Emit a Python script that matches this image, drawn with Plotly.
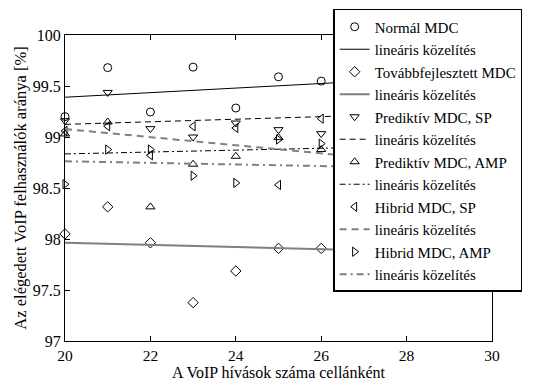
import plotly.graph_objects as go

x_calls = [20, 21, 22, 23, 24, 25, 26]

normal_mdc = [99.20, 99.68, 99.245, 99.685, 99.284, 99.59, 99.548]
tovabb_mdc = [98.05, 98.315, 97.963, 97.376, 97.686, 97.908, 97.908]
pred_sp = [99.16, 99.437, 99.082, 99.00, 99.137, 99.072, 99.033]
pred_amp = [99.03, 99.147, 98.315, 98.733, 98.811, 98.994, 98.877]
hibrid_sp = [99.06, 99.105, 98.821, 99.105, 99.088, 98.53, 99.18]
hibrid_amp = [98.537, 98.877, 98.877, 98.62, 98.55, 98.975, 98.935]

fit_x = [20, 30]
fit_normal = [99.39, 99.614]
fit_tovabb = [97.963, 97.859]
fit_pred_sp = [99.124, 99.250]
fit_pred_amp = [98.834, 98.927]
fit_hibrid_sp = [99.078, 98.681]
fit_hibrid_amp = [98.762, 98.684]

names = ["Normál MDC", "Továbbfejlesztett MDC", "Prediktív MDC, SP",
         "Prediktív MDC, AMP", "Hibrid MDC, SP", "Hibrid MDC, AMP"]
fit_name = "lineáris közelítés"

GRAY = "rgb(128,128,128)"
series = [
    (names[0], normal_mdc, "circle-open", fit_normal, "black", 1, "solid"),
    (names[1], tovabb_mdc, "diamond-open", fit_tovabb, GRAY, 2, "solid"),
    (names[2], pred_sp, "triangle-down-open", fit_pred_sp, "black", 1, "6px,4px"),
    (names[3], pred_amp, "triangle-up-open", fit_pred_amp, "black", 1, "6px,3px,2px,3px"),
    (names[4], hibrid_sp, "triangle-left-open", fit_hibrid_sp, GRAY, 2, "7px,5px"),
    (names[5], hibrid_amp, "triangle-right-open", fit_hibrid_amp, GRAY, 2, "7px,4px,2px,4px"),
]

fig = go.Figure()
for name, ys, sym, fit, col, w, dash in series:
    fig.add_trace(go.Scatter(
        x=x_calls, y=ys, mode="markers", name=name, cliponaxis=False,
        marker=dict(symbol=sym, size=8, color="black", line=dict(color="black", width=1)),
    ))
    fig.add_trace(go.Scatter(
        x=fit_x, y=fit, mode="lines", name=fit_name,
        line=dict(color=col, width=w, dash=dash),
    ))

FONT = "Times New Roman, Liberation Serif, DejaVu Serif, serif"
axis_common = dict(
    showline=True, linecolor="black", linewidth=1, mirror="ticks",
    ticks="inside", ticklen=5, tickcolor="black", showgrid=False, zeroline=False,
)
fig.update_xaxes(range=[20, 30], tickvals=[20, 22, 24, 26, 28, 30],
                 tickfont=dict(family=FONT, size=15.5, color="black"),
                 title=dict(text="A VoIP hívások száma cellánként", standoff=4,
                            font=dict(family=FONT, size=16, color="black")),
                 **axis_common)
fig.update_yaxes(range=[97, 100], tickvals=[97, 97.5, 98, 98.5, 99, 99.5, 100],
                 ticktext=["97", "97.5", "98", "98.5", "99", "99.5", "100"],
                 tickfont=dict(family=FONT, size=16, color="black"),
                 title=dict(text="Az elégedett VoIP felhasználók aránya [%]", standoff=2,
                            font=dict(family=FONT, size=16.5, color="black")),
                 **axis_common)

fig.update_layout(
    width=536, height=381,
    margin=dict(l=64.5, r=44, t=34.5, b=40, autoexpand=False),
    paper_bgcolor="white", plot_bgcolor="white",
    font=dict(family=FONT, size=15, color="black"),
    showlegend=True,
    legend=dict(x=0.628, y=1.085, xanchor="left", yanchor="top",
                maxheight=340,
                bgcolor="white", bordercolor="black", borderwidth=1.5,
                traceorder="normal", tracegroupgap=0,
                font=dict(family=FONT, size=15, color="black")),
)

fig.write_html("out.html")
